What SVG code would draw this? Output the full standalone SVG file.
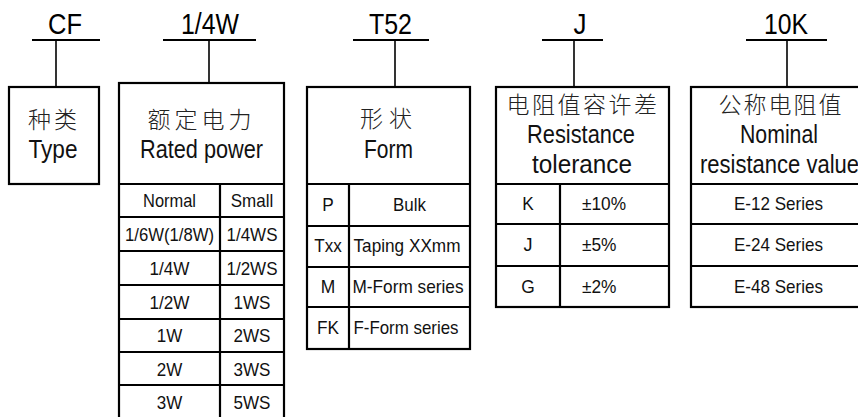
<svg xmlns="http://www.w3.org/2000/svg" width="858" height="417" viewBox="0 0 858 417">
<style>
.bx{fill:#fff;stroke:#000;stroke-width:2.2}
.ln{stroke:#000;stroke-width:2.2;fill:none}
.cn{stroke:#000;stroke-width:1.6;fill:none}
.hd{font-family:"Liberation Sans",Arial,sans-serif;font-size:29px;text-anchor:middle;fill:#000}
.en{font-family:"Liberation Sans",Arial,sans-serif;font-size:25px;text-anchor:middle;fill:#111}
.zh{font-family:"Noto Sans CJK SC",sans-serif;font-weight:300;font-size:23px;text-anchor:middle;fill:#222}
.tb{font-family:"Liberation Sans",Arial,sans-serif;font-size:19px;text-anchor:middle;fill:#111}
.tl{font-family:"Liberation Sans",Arial,sans-serif;font-size:19px;fill:#111}
</style>
<rect width="858" height="417" fill="#fff"/>
<g id="connectors">
<line class="ln" x1="32" y1="40" x2="100" y2="40"/>
<line class="ln" x1="163" y1="40" x2="256" y2="40"/>
<line class="ln" x1="353" y1="40" x2="429" y2="40"/>
<line class="ln" x1="542" y1="40" x2="603" y2="40"/>
<line class="ln" x1="746" y1="40" x2="827" y2="40"/>
<line class="cn" x1="56" y1="40" x2="56" y2="87"/>
<line class="cn" x1="209" y1="40" x2="209" y2="83"/>
<line class="cn" x1="395" y1="40" x2="395" y2="87"/>
<line class="cn" x1="574" y1="40" x2="574" y2="87"/>
<line class="cn" x1="787" y1="40" x2="787" y2="87"/>
</g>
<g id="labels">
<text class="hd" x="65" y="34" textLength="34" lengthAdjust="spacingAndGlyphs">CF</text>
<text class="hd" x="210" y="34" textLength="58" lengthAdjust="spacingAndGlyphs">1/4W</text>
<text class="hd" x="390.5" y="34" textLength="43" lengthAdjust="spacingAndGlyphs">T52</text>
<text class="hd" x="580" y="34" textLength="13" lengthAdjust="spacingAndGlyphs">J</text>
<text class="hd" x="786" y="34" textLength="44" lengthAdjust="spacingAndGlyphs">10K</text>
</g>
<g id="type">
<rect class="bx" x="9" y="87" width="90" height="97"/>
<text class="zh" x="54" y="128" letter-spacing="3">种类</text>
<text class="en" x="53" y="158" textLength="49" lengthAdjust="spacingAndGlyphs">Type</text>
</g>
<g id="rated-power">
<rect class="bx" x="119" y="83" width="165" height="340"/>
<path class="ln" d="M119 184H284M119 217H284M119 251H284M119 285H284M119 319H284M119 352H284M119 385H284M220 184V420"/>
<text class="zh" x="201.5" y="128" letter-spacing="4">额定电力</text>
<text class="en" x="201.5" y="158" textLength="123" lengthAdjust="spacingAndGlyphs">Rated power</text>
<text class="tb" x="169.5" y="207" textLength="53" lengthAdjust="spacingAndGlyphs">Normal</text>
<text class="tb" x="252" y="207" textLength="42.5" lengthAdjust="spacingAndGlyphs">Small</text>
<text class="tb" x="169.5" y="240.5" textLength="89" lengthAdjust="spacingAndGlyphs">1/6W(1/8W)</text>
<text class="tb" x="252" y="240.5" textLength="51" lengthAdjust="spacingAndGlyphs">1/4WS</text>
<text class="tb" x="169.5" y="274.5" textLength="40" lengthAdjust="spacingAndGlyphs">1/4W</text>
<text class="tb" x="252" y="274.5" textLength="51" lengthAdjust="spacingAndGlyphs">1/2WS</text>
<text class="tb" x="169.5" y="308.5" textLength="40" lengthAdjust="spacingAndGlyphs">1/2W</text>
<text class="tb" x="252" y="308.5" textLength="37" lengthAdjust="spacingAndGlyphs">1WS</text>
<text class="tb" x="169.5" y="342" textLength="25.5" lengthAdjust="spacingAndGlyphs">1W</text>
<text class="tb" x="252" y="342" textLength="37" lengthAdjust="spacingAndGlyphs">2WS</text>
<text class="tb" x="169.5" y="375.5" textLength="25.5" lengthAdjust="spacingAndGlyphs">2W</text>
<text class="tb" x="252" y="375.5" textLength="37" lengthAdjust="spacingAndGlyphs">3WS</text>
<text class="tb" x="169.5" y="409" textLength="25.5" lengthAdjust="spacingAndGlyphs">3W</text>
<text class="tb" x="252" y="409" textLength="37" lengthAdjust="spacingAndGlyphs">5WS</text>
</g>
<g id="form">
<rect class="bx" x="307" y="87" width="163" height="262"/>
<path class="ln" d="M307 184H470M307 226H470M307 267H470M307 307H470M349 184V349"/>
<text class="zh" x="389" y="127" font-size="20" letter-spacing="6">形状</text>
<text class="en" x="388.5" y="158" textLength="49" lengthAdjust="spacingAndGlyphs">Form</text>
<text class="tb" x="328" y="211" textLength="11.5" lengthAdjust="spacingAndGlyphs">P</text>
<text class="tb" x="409.5" y="211" textLength="33" lengthAdjust="spacingAndGlyphs">Bulk</text>
<text class="tb" x="328" y="252" textLength="27.5" lengthAdjust="spacingAndGlyphs">Txx</text>
<text class="tb" x="407" y="252" textLength="107" lengthAdjust="spacingAndGlyphs">Taping XXmm</text>
<text class="tb" x="328" y="293" textLength="14.5" lengthAdjust="spacingAndGlyphs">M</text>
<text class="tb" x="408" y="293" textLength="111" lengthAdjust="spacingAndGlyphs">M-Form series</text>
<text class="tb" x="328" y="334" textLength="22" lengthAdjust="spacingAndGlyphs">FK</text>
<text class="tb" x="406" y="334" textLength="105" lengthAdjust="spacingAndGlyphs">F-Form series</text>
</g>
<g id="tolerance">
<rect class="bx" x="496" y="87" width="173" height="220"/>
<path class="ln" d="M496 184H669M496 224H669M496 266H669M560 184V307"/>
<text class="zh" x="583" y="113" font-size="24" letter-spacing="2.5">电阻值容许差</text>
<text class="en" x="581" y="143" textLength="108" lengthAdjust="spacingAndGlyphs">Resistance</text>
<text class="en" x="582" y="173" textLength="100" lengthAdjust="spacingAndGlyphs">tolerance</text>
<text class="tb" x="528" y="210" textLength="11.5" lengthAdjust="spacingAndGlyphs">K</text>
<text class="tl" x="582" y="210" textLength="44" lengthAdjust="spacingAndGlyphs">±10%</text>
<text class="tb" x="528" y="251" textLength="9" lengthAdjust="spacingAndGlyphs">J</text>
<text class="tl" x="582" y="251" textLength="34.5" lengthAdjust="spacingAndGlyphs">±5%</text>
<text class="tb" x="528" y="292.5" textLength="13.5" lengthAdjust="spacingAndGlyphs">G</text>
<text class="tl" x="582" y="292.5" textLength="34.5" lengthAdjust="spacingAndGlyphs">±2%</text>
</g>
<g id="nominal">
<rect class="bx" x="691" y="87" width="176" height="220"/>
<path class="ln" d="M691 184H867M691 224H867M691 266H867"/>
<text class="zh" x="781" y="113" font-size="24" letter-spacing="2">公称电阻值</text>
<text class="en" x="779" y="143" textLength="78" lengthAdjust="spacingAndGlyphs">Nominal</text>
<text class="en" x="779.5" y="173" textLength="159" lengthAdjust="spacingAndGlyphs">resistance value</text>
<text class="tb" x="778.5" y="210" textLength="89" lengthAdjust="spacingAndGlyphs">E-12 Series</text>
<text class="tb" x="778.5" y="251" textLength="89" lengthAdjust="spacingAndGlyphs">E-24 Series</text>
<text class="tb" x="778.5" y="292.5" textLength="89" lengthAdjust="spacingAndGlyphs">E-48 Series</text>
</g>
</svg>
